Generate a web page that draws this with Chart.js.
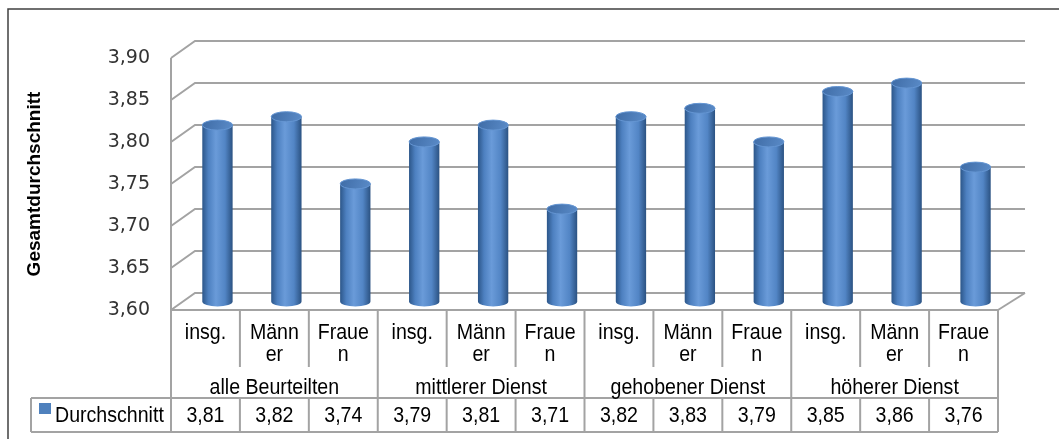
<!DOCTYPE html>
<html>
<head>
<meta charset="utf-8">
<script src="https://cdn.jsdelivr.net/npm/chart.js@4.4.1/dist/chart.umd.min.js"></script>
<style>
    html, body { margin: 0; padding: 0; background: #fff; }
</style>
</head>
<body>
<canvas id="beurteilungChart" width="1059" height="439"></canvas>
<script>
// Daten
const categories = ['insg.', 'Männer', 'Frauen', 'insg.', 'Männer', 'Frauen',
                    'insg.', 'Männer', 'Frauen', 'insg.', 'Männer', 'Frauen'];
const groups = ['alle Beurteilten', 'mittlerer Dienst', 'gehobener Dienst', 'höherer Dienst'];
const durchschnitt = [3.81, 3.82, 3.74, 3.79, 3.81, 3.71, 3.82, 3.83, 3.79, 3.85, 3.86, 3.76];
const yTicks = [3.60, 3.65, 3.70, 3.75, 3.80, 3.85, 3.90];

const fmt = v => Number(v).toFixed(2).replace('.', ',');

// 3D-Tiefe (Rückwand gegenüber Vorderkante)
const DX = 24, DXR = 27, DY = -17;
const GRID = '#a3a3a3';
const TABLE_FONT = '22px "Liberation Sans", Arial, sans-serif';
const SX = 0.89; // Tabellenschrift leicht schmal, wie im Original

function wrapChars(ctx, text, maxW) {
    const lines = [];
    let cur = '';
    for (const ch of text) {
        if (cur && ctx.measureText(cur + ch).width * SX > maxW) {
            lines.push(cur);
            cur = ch;
        } else {
            cur += ch;
        }
    }
    if (cur) lines.push(cur);
    return lines;
}

function narrowText(ctx, text, x, y) {
    ctx.save();
    ctx.translate(x, y);
    ctx.scale(SX, 1);
    ctx.fillText(text, 0, 0);
    ctx.restore();
}

const excel3d = {
    id: 'excel3d',
    beforeDraw(chart) {
        const ctx = chart.ctx;
        ctx.save();
        ctx.strokeStyle = '#404040';
        ctx.lineWidth = 1.5;
        ctx.beginPath();
        ctx.moveTo(8, chart.height);
        ctx.lineTo(8, 9);
        ctx.lineTo(chart.width, 9);
        ctx.stroke();
        ctx.restore();
    },
    beforeDatasetsDraw(chart) {
        const { ctx, chartArea: a, scales: { y } } = chart;
        ctx.save();
        ctx.strokeStyle = GRID;
        ctx.lineWidth = 2;
        yTicks.forEach(v => {
            const yf = y.getPixelForValue(v);
            ctx.beginPath();
            ctx.moveTo(a.left, yf);
            ctx.lineTo(a.left + DX, yf + DY);
            ctx.lineTo(a.right + DXR, yf + DY);
            ctx.stroke();
        });
        // Seitenkante vorne links
        ctx.beginPath();
        ctx.moveTo(a.left, y.getPixelForValue(yTicks[yTicks.length - 1]));
        ctx.lineTo(a.left, a.bottom);
        ctx.stroke();
        // Boden rechts
        ctx.beginPath();
        ctx.moveTo(a.right, a.bottom);
        ctx.lineTo(a.right + DXR, a.bottom + DY);
        ctx.stroke();
        ctx.restore();
    },
    afterDatasetsDraw(chart) {
        const { ctx, chartArea: a, scales: { x, y } } = chart;
        const meta = chart.getDatasetMeta(0);
        const floor = y.getPixelForValue(yTicks[0]);

        // Zylinder
        ctx.save();
        meta.data.forEach(bar => {
            const rx = bar.width / 2, ry = 5;
            const cx = bar.x + DX / 2;
            const top = bar.y + DY / 2;
            const base = floor + DY / 2;
            const g = ctx.createLinearGradient(cx - rx, 0, cx + rx, 0);
            g.addColorStop(0, '#2c5689');
            g.addColorStop(0.2, '#4d80c0');
            g.addColorStop(0.45, '#6a9bd9');
            g.addColorStop(0.75, '#5285c5');
            g.addColorStop(1, '#2b5282');
            ctx.fillStyle = g;
            ctx.beginPath();
            ctx.moveTo(cx - rx, top);
            ctx.lineTo(cx - rx, base);
            ctx.ellipse(cx, base, rx, ry, 0, Math.PI, 0, true);
            ctx.lineTo(cx + rx, top);
            ctx.closePath();
            ctx.fill();

            const gt = ctx.createLinearGradient(cx - rx, top - ry, cx + rx, top + ry);
            gt.addColorStop(0, '#3f6ca6');
            gt.addColorStop(1, '#5a8bc8');
            ctx.fillStyle = gt;
            ctx.beginPath();
            ctx.ellipse(cx, top, rx, ry, 0, 0, Math.PI * 2);
            ctx.fill();
            ctx.strokeStyle = '#6495d2';
            ctx.lineWidth = 1;
            ctx.stroke();
        });
        ctx.restore();

        // Datentabelle
        const n = categories.length;
        const colW = (a.right - a.left) / n;
        const edge = i => x.getPixelForValue(0) - colW / 2 + i * colW;
        const rowTop = a.bottom + 88;
        const rowBot = a.bottom + 122;
        const legendLeft = 31;

        ctx.save();
        ctx.strokeStyle = GRID;
        ctx.lineWidth = 2;
        ctx.beginPath();
        ctx.moveTo(a.left, a.bottom); ctx.lineTo(edge(n), a.bottom);
        ctx.moveTo(legendLeft, rowTop); ctx.lineTo(edge(n), rowTop);
        ctx.moveTo(legendLeft, rowBot); ctx.lineTo(edge(n), rowBot);
        ctx.moveTo(legendLeft, rowTop); ctx.lineTo(legendLeft, rowBot);
        for (let i = 0; i <= n; i++) {
            const xb = edge(i);
            if (i % 3 === 0) {
                ctx.moveTo(xb, a.bottom); ctx.lineTo(xb, rowBot);
            } else {
                ctx.moveTo(xb, a.bottom); ctx.lineTo(xb, a.bottom + 57);
                ctx.moveTo(xb, rowTop); ctx.lineTo(xb, rowBot);
            }
        }
        ctx.stroke();

        ctx.font = TABLE_FONT;
        ctx.fillStyle = '#000';
        ctx.textAlign = 'center';
        ctx.textBaseline = 'middle';
        categories.forEach((c, i) => {
            const cx = x.getPixelForValue(i);
            wrapChars(ctx, c, colW - 10).forEach((line, k) => {
                narrowText(ctx, line, cx, a.bottom + 23 + k * 22);
            });
            narrowText(ctx, fmt(durchschnitt[i]), cx, (rowTop + rowBot) / 2 + 1);
        });
        groups.forEach((gName, j) => {
            narrowText(ctx, gName, (edge(j * 3) + edge(j * 3 + 3)) / 2, a.bottom + 78);
        });

        ctx.fillStyle = '#4f81bd';
        ctx.fillRect(39, rowTop + 5, 12, 11);
        ctx.fillStyle = '#000';
        ctx.textAlign = 'left';
        narrowText(ctx, 'Durchschnitt', 55, (rowTop + rowBot) / 2 + 1);
        ctx.restore();
    }
};

new Chart(document.getElementById('beurteilungChart'), {
    type: 'bar',
    data: {
        labels: categories,
        datasets: [{
            label: 'Durchschnitt',
            data: durchschnitt,
            backgroundColor: 'rgba(0, 0, 0, 0)',
            borderWidth: 0,
            barPercentage: 0.44,
            categoryPercentage: 1
        }]
    },
    options: {
        responsive: false,
        animation: false,
        layout: {
            padding: { left: 0, right: 61, top: 58, bottom: 129 }
        },
        plugins: {
            legend: { display: false },
            tooltip: { enabled: false }
        },
        scales: {
            x: { display: false },
            y: {
                min: 3.6,
                max: 3.9,
                afterBuildTicks: scale => {
                    scale.ticks = yTicks.map(v => ({ value: v }));
                },
                afterFit: scale => {
                    scale.width = 171;
                },
                grid: { display: false, drawTicks: false },
                border: { display: false },
                ticks: {
                    padding: 21,
                    color: '#333',
                    font: { family: 'DejaVu Sans', size: 19 },
                    callback: v => fmt(v)
                },
                title: {
                    display: true,
                    text: 'Gesamtdurchschnitt',
                    color: '#000',
                    font: { family: 'Liberation Sans', size: 19, weight: 'bold' },
                    padding: { top: 23, bottom: 0 }
                }
            }
        }
    },
    plugins: [excel3d]
});
</script>
</body>
</html>
